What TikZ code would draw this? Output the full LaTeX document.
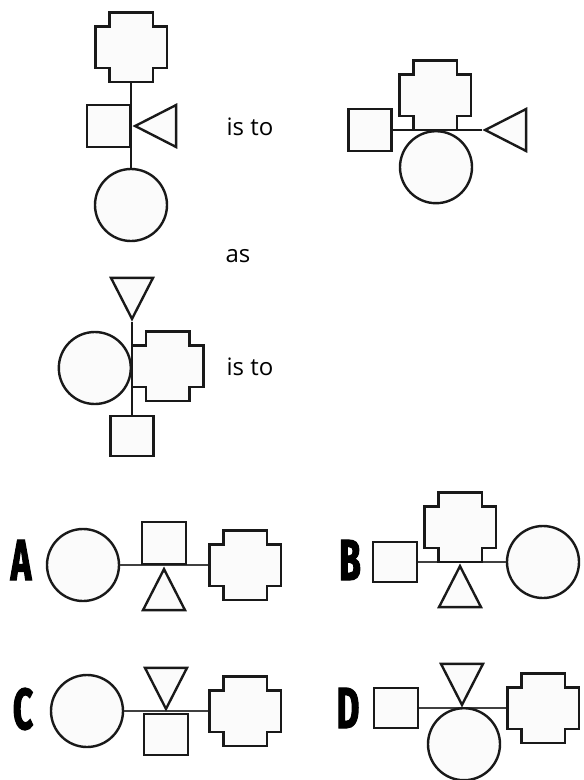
\documentclass[tikz,border=0pt]{standalone}
\usepackage{fontspec}
\setmainfont{Open Sans}
\newfontfamily\optfont[FakeStretch=0.6,FakeBold=2]{Fira Sans}
\usetikzlibrary{shapes.geometric}
\tikzset{
  shapeline/.style={draw=black!90, line width=2.4pt, fill=black!1.5},
  roundbox/.style={shapeline, circle, inner sep=0pt, minimum size=72pt},
  squarebox/.style={shapeline, rectangle, inner sep=0pt, minimum width=43pt, minimum height=42pt},
  crossbox/.style={inner sep=0pt, minimum width=71pt, minimum height=69pt},
  tribox/.style={shapeline, isosceles triangle, isosceles triangle stretches, inner sep=0pt, minimum width=42pt, minimum height=41pt, anchor=apex},
  link/.style={draw=black!90, line width=2.2pt},
  thinlink/.style={draw=black!75, line width=1.2pt},
  wordlabel/.style={font=\fontsize{24}{28}\selectfont, inner sep=0pt},
  optlabel/.style={font=\optfont\bfseries\fontsize{58}{60}\selectfont, inner sep=0pt},
}
% stepped outline round a crossbox node
\newcommand{\stepcross}[1]{%
  \draw[shapeline] ([xshift=14pt]#1.north west) -- ([xshift=-14pt]#1.north east)
    -- ([xshift=-14pt,yshift=-14pt]#1.north east) -- ([yshift=-14pt]#1.north east)
    -- ([yshift=14pt]#1.south east) -- ([xshift=-14pt,yshift=14pt]#1.south east)
    -- ([xshift=-14pt]#1.south east) -- ([xshift=14pt]#1.south west)
    -- ([xshift=14pt,yshift=14pt]#1.south west) -- ([yshift=14pt]#1.south west)
    -- ([yshift=-14pt]#1.north west) -- ([xshift=14pt,yshift=-14pt]#1.north west) -- cycle;}
\begin{document}
\begin{tikzpicture}[x=1pt,y=-1pt]
  \useasboundingbox (0,0) rectangle (584,780);

  % first pair
  \node[crossbox] (f1cross) at (131,47) {};
  \node[roundbox] (f1circ) at (131,205) {};
  \draw[link] (f1cross) -- (f1circ);
  \node[squarebox, anchor=east] (f1sq) at (131,126) {};
  \node[tribox, shape border rotate=180] (f1tri) at (132,126) {};
  \stepcross{f1cross}
  \node[wordlabel] (isto1) at (250,127) {is to};

  \node[squarebox] (f2sq) at (370,130) {};
  \node[tribox, shape border rotate=180] (f2tri) at (482,130) {};
  \draw[link] (f2sq.east) -- (f2tri.apex);
  \node[crossbox, anchor=south] (f2cross) at (435,130) {};
  \node[roundbox, anchor=north] (f2circ) at (436,130) {};
  \stepcross{f2cross}

  \node[wordlabel] (as) at (238,256) {as};

  % second pair
  \node[tribox, shape border rotate=270] (f3tri) at (132,322) {};
  \node[squarebox, anchor=north, minimum height=40pt] (f3sq) at (132,415) {};
  \draw[link] (f3tri.apex) -- (f3sq.north);
  \node[roundbox, anchor=east] (f3circ) at (132,368) {};
  \node[crossbox, anchor=west] (f3cross) at (132,366) {};
  \stepcross{f3cross}
  \node[wordlabel] (isto2) at (250,367) {is to};

  % answer A
  \node[optlabel] (optA) at (21,560) {A};
  \node[roundbox] (aCirc) at (83,565) {};
  \node[crossbox] (aCross) at (245,565) {};
  \draw[thinlink] (aCirc) -- (aCross);
  \node[squarebox, anchor=south, minimum width=44pt] (aSq) at (164,565) {};
  \node[tribox, shape border rotate=90] (aTri) at (164,566) {};
  \stepcross{aCross}

  % answer B
  \node[optlabel] (optB) at (350,560) {B};
  \node[squarebox, minimum width=44pt, minimum height=40pt] (bSq) at (395,562) {};
  \node[roundbox] (bCirc) at (543,562) {};
  \draw[thinlink] (bSq) -- (bCirc);
  \node[crossbox, anchor=south] (bCross) at (460,562) {};
  \node[tribox, shape border rotate=90] (bTri) at (460,563) {};
  \stepcross{bCross}

  % answer C
  \node[optlabel] (optC) at (23,709) {C};
  \node[roundbox] (cCirc) at (87,711) {};
  \node[crossbox] (cCross) at (245,711) {};
  \draw[thinlink] (cCirc) -- (cCross);
  \node[tribox, shape border rotate=270] (cTri) at (166,712) {};
  \node[squarebox, anchor=north, minimum width=44pt, minimum height=41pt] (cSq) at (166,713) {};
  \stepcross{cCross}

  % answer D
  \node[optlabel] (optD) at (348,708) {D};
  \node[squarebox, minimum width=44pt, minimum height=40pt] (dSq) at (396,708) {};
  \node[crossbox] (dCross) at (543,708) {};
  \draw[thinlink] (dSq) -- (dCross);
  \node[tribox, shape border rotate=270] (dTri) at (462,708) {};
  \node[roundbox, anchor=north] (dCirc) at (464,707) {};
  \stepcross{dCross}
\end{tikzpicture}
\end{document}
